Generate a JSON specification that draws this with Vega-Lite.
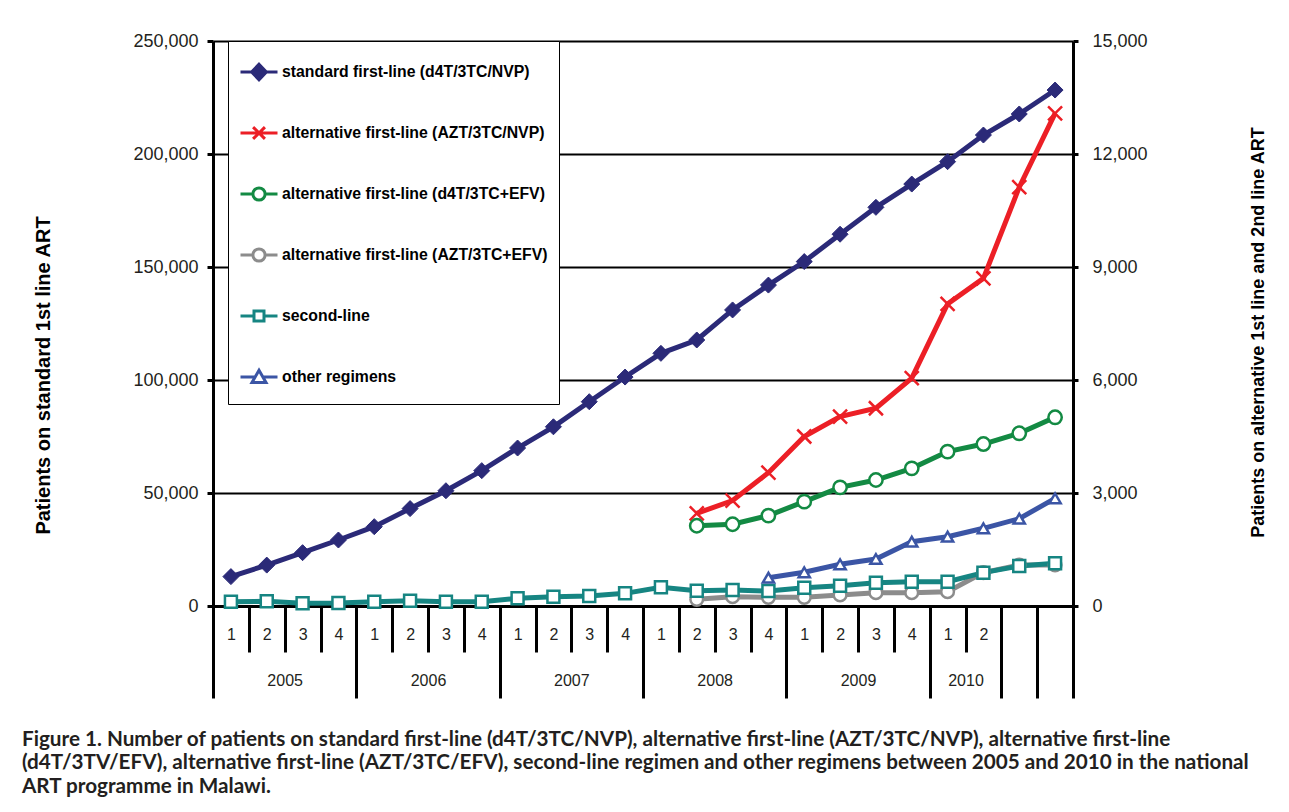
{
  "$schema": "https://vega.github.io/schema/vega-lite/v6.json",
  "width": 860,
  "height": 565,
  "autosize": {"type": "none"},
  "padding": {"left": 213, "top": 41, "right": 216, "bottom": 206},
  "background": "white",
  "config": {
    "view": {"stroke": null},
    "axis": {"labelFont": "Liberation Sans", "titleFont": "Liberation Sans"}
  },
  "title": {
    "text": [
      "Figure 1. Number of patients on standard first-line (d4T/3TC/NVP), alternative first-line (AZT/3TC/NVP), alternative first-line",
      "(d4T/3TV/EFV), alternative first-line (AZT/3TC/EFV), second-line regimen and other regimens between 2005 and 2010 in the national",
      "ART programme in Malawi."
    ],
    "orient": "bottom",
    "anchor": "start",
    "frame": "group",
    "font": "Lato",
    "fontWeight": "bold",
    "fontSize": 20.7,
    "color": "#231f20",
    "lineHeight": 23.7,
    "offset": 30,
    "dx": -191
  },
  "data": {
    "values": [
      {"s": "standard first-line (d4T/3TC/NVP)", "t": 2005.125, "v": 13000},
      {"s": "standard first-line (d4T/3TC/NVP)", "t": 2005.375, "v": 18100},
      {"s": "standard first-line (d4T/3TC/NVP)", "t": 2005.625, "v": 23600},
      {"s": "standard first-line (d4T/3TC/NVP)", "t": 2005.875, "v": 29200},
      {"s": "standard first-line (d4T/3TC/NVP)", "t": 2006.125, "v": 35100},
      {"s": "standard first-line (d4T/3TC/NVP)", "t": 2006.375, "v": 43100},
      {"s": "standard first-line (d4T/3TC/NVP)", "t": 2006.625, "v": 51000},
      {"s": "standard first-line (d4T/3TC/NVP)", "t": 2006.875, "v": 59900},
      {"s": "standard first-line (d4T/3TC/NVP)", "t": 2007.125, "v": 69900},
      {"s": "standard first-line (d4T/3TC/NVP)", "t": 2007.375, "v": 79300},
      {"s": "standard first-line (d4T/3TC/NVP)", "t": 2007.625, "v": 90400},
      {"s": "standard first-line (d4T/3TC/NVP)", "t": 2007.875, "v": 101300},
      {"s": "standard first-line (d4T/3TC/NVP)", "t": 2008.125, "v": 111800},
      {"s": "standard first-line (d4T/3TC/NVP)", "t": 2008.375, "v": 117700},
      {"s": "standard first-line (d4T/3TC/NVP)", "t": 2008.625, "v": 131000},
      {"s": "standard first-line (d4T/3TC/NVP)", "t": 2008.875, "v": 142000},
      {"s": "standard first-line (d4T/3TC/NVP)", "t": 2009.125, "v": 152400},
      {"s": "standard first-line (d4T/3TC/NVP)", "t": 2009.375, "v": 164500},
      {"s": "standard first-line (d4T/3TC/NVP)", "t": 2009.625, "v": 176400},
      {"s": "standard first-line (d4T/3TC/NVP)", "t": 2009.875, "v": 186700},
      {"s": "standard first-line (d4T/3TC/NVP)", "t": 2010.125, "v": 196600},
      {"s": "standard first-line (d4T/3TC/NVP)", "t": 2010.375, "v": 208400},
      {"s": "standard first-line (d4T/3TC/NVP)", "t": 2010.625, "v": 217700},
      {"s": "standard first-line (d4T/3TC/NVP)", "t": 2010.875, "v": 228300},
      {"s": "alternative first-line (AZT/3TC/NVP)", "t": 2008.375, "v": 2460},
      {"s": "alternative first-line (AZT/3TC/NVP)", "t": 2008.625, "v": 2800},
      {"s": "alternative first-line (AZT/3TC/NVP)", "t": 2008.875, "v": 3540},
      {"s": "alternative first-line (AZT/3TC/NVP)", "t": 2009.125, "v": 4500},
      {"s": "alternative first-line (AZT/3TC/NVP)", "t": 2009.375, "v": 5030},
      {"s": "alternative first-line (AZT/3TC/NVP)", "t": 2009.625, "v": 5250},
      {"s": "alternative first-line (AZT/3TC/NVP)", "t": 2009.875, "v": 6050},
      {"s": "alternative first-line (AZT/3TC/NVP)", "t": 2010.125, "v": 8020},
      {"s": "alternative first-line (AZT/3TC/NVP)", "t": 2010.375, "v": 8700},
      {"s": "alternative first-line (AZT/3TC/NVP)", "t": 2010.625, "v": 11120},
      {"s": "alternative first-line (AZT/3TC/NVP)", "t": 2010.875, "v": 13080},
      {"s": "alternative first-line (d4T/3TC+EFV)", "t": 2008.375, "v": 2130},
      {"s": "alternative first-line (d4T/3TC+EFV)", "t": 2008.625, "v": 2170},
      {"s": "alternative first-line (d4T/3TC+EFV)", "t": 2008.875, "v": 2400},
      {"s": "alternative first-line (d4T/3TC+EFV)", "t": 2009.125, "v": 2770},
      {"s": "alternative first-line (d4T/3TC+EFV)", "t": 2009.375, "v": 3150},
      {"s": "alternative first-line (d4T/3TC+EFV)", "t": 2009.625, "v": 3345},
      {"s": "alternative first-line (d4T/3TC+EFV)", "t": 2009.875, "v": 3655},
      {"s": "alternative first-line (d4T/3TC+EFV)", "t": 2010.125, "v": 4100},
      {"s": "alternative first-line (d4T/3TC+EFV)", "t": 2010.375, "v": 4300},
      {"s": "alternative first-line (d4T/3TC+EFV)", "t": 2010.625, "v": 4585},
      {"s": "alternative first-line (d4T/3TC+EFV)", "t": 2010.875, "v": 5010},
      {"s": "alternative first-line (AZT/3TC+EFV)", "t": 2008.375, "v": 177},
      {"s": "alternative first-line (AZT/3TC+EFV)", "t": 2008.625, "v": 248},
      {"s": "alternative first-line (AZT/3TC+EFV)", "t": 2008.875, "v": 230},
      {"s": "alternative first-line (AZT/3TC+EFV)", "t": 2009.125, "v": 230},
      {"s": "alternative first-line (AZT/3TC+EFV)", "t": 2009.375, "v": 292},
      {"s": "alternative first-line (AZT/3TC+EFV)", "t": 2009.625, "v": 354},
      {"s": "alternative first-line (AZT/3TC+EFV)", "t": 2009.875, "v": 354},
      {"s": "alternative first-line (AZT/3TC+EFV)", "t": 2010.125, "v": 381},
      {"s": "alternative first-line (AZT/3TC+EFV)", "t": 2010.375, "v": 885},
      {"s": "alternative first-line (AZT/3TC+EFV)", "t": 2010.625, "v": 1089},
      {"s": "alternative first-line (AZT/3TC+EFV)", "t": 2010.875, "v": 1089},
      {"s": "second-line", "t": 2005.125, "v": 115},
      {"s": "second-line", "t": 2005.375, "v": 124},
      {"s": "second-line", "t": 2005.625, "v": 71},
      {"s": "second-line", "t": 2005.875, "v": 80},
      {"s": "second-line", "t": 2006.125, "v": 115},
      {"s": "second-line", "t": 2006.375, "v": 142},
      {"s": "second-line", "t": 2006.625, "v": 115},
      {"s": "second-line", "t": 2006.875, "v": 115},
      {"s": "second-line", "t": 2007.125, "v": 204},
      {"s": "second-line", "t": 2007.375, "v": 248},
      {"s": "second-line", "t": 2007.625, "v": 265},
      {"s": "second-line", "t": 2007.875, "v": 336},
      {"s": "second-line", "t": 2008.125, "v": 496},
      {"s": "second-line", "t": 2008.375, "v": 407},
      {"s": "second-line", "t": 2008.625, "v": 425},
      {"s": "second-line", "t": 2008.875, "v": 398},
      {"s": "second-line", "t": 2009.125, "v": 487},
      {"s": "second-line", "t": 2009.375, "v": 540},
      {"s": "second-line", "t": 2009.625, "v": 619},
      {"s": "second-line", "t": 2009.875, "v": 646},
      {"s": "second-line", "t": 2010.125, "v": 646},
      {"s": "second-line", "t": 2010.375, "v": 885},
      {"s": "second-line", "t": 2010.625, "v": 1062},
      {"s": "second-line", "t": 2010.875, "v": 1133},
      {"s": "other regimens", "t": 2008.875, "v": 751},
      {"s": "other regimens", "t": 2009.125, "v": 895},
      {"s": "other regimens", "t": 2009.375, "v": 1107},
      {"s": "other regimens", "t": 2009.625, "v": 1248},
      {"s": "other regimens", "t": 2009.875, "v": 1708},
      {"s": "other regimens", "t": 2010.125, "v": 1840},
      {"s": "other regimens", "t": 2010.375, "v": 2063},
      {"s": "other regimens", "t": 2010.625, "v": 2318},
      {"s": "other regimens", "t": 2010.875, "v": 2859}
    ]
  },
  "layer": [
    {
      "transform": [{"filter": "datum.s === 'standard first-line (d4T/3TC/NVP)'"}],
      "encoding": {
        "x": {
          "field": "t", "type": "quantitative",
          "scale": {"domain": [2005, 2011], "nice": false, "zero": false},
          "axis": {
            "orient": "bottom",
            "values": [2005, 2005.25, 2005.5, 2005.75, 2006, 2006.25, 2006.5, 2006.75, 2007, 2007.25, 2007.5, 2007.75, 2008, 2008.25, 2008.5, 2008.75, 2009, 2009.25, 2009.5, 2009.75, 2010, 2010.25, 2010.5, 2010.75, 2011],
            "labels": false, "grid": false, "title": null,
            "domain": true, "domainColor": "#000", "domainWidth": 3,
            "ticks": true, "tickColor": "#000", "tickWidth": 3,
            "tickSize": {"condition": {"test": "datum.value % 1 === 0 || datum.value > 2010.4", "value": 92}, "value": 46}
          }
        },
        "y": {
          "field": "v", "type": "quantitative",
          "scale": {"domain": [0, 250000], "nice": false},
          "axis": {
            "orient": "left",
            "values": [0, 50000, 100000, 150000, 200000, 250000],
            "format": ",d",
            "grid": true, "gridColor": "#000", "gridWidth": 2, "gridOpacity": 1,
            "domain": true, "domainColor": "#000", "domainWidth": 3,
            "ticks": true, "tickColor": "#000", "tickWidth": 3, "tickSize": 6,
            "labelFontSize": 18, "labelColor": "#231f20", "labelPadding": 9,
            "title": "Patients on standard 1st line ART",
            "titleFontSize": 20, "titleFontWeight": "bold", "titleColor": "#000",
            "titleAngle": 270, "titleBaseline": "middle", "titleAlign": "center",
            "titleX": -170, "titleY": 334
          }
        }
      },
      "layer": [
        {"mark": {"type": "line", "color": "#2b2a78", "strokeWidth": 5}},
        {"mark": {"type": "point", "shape": "diamond", "filled": true, "color": "#2b2a78", "stroke": "#2b2a78", "strokeWidth": 1, "size": 256, "opacity": 1}}
      ]
    },
    {
      "transform": [{"filter": "datum.s !== 'standard first-line (d4T/3TC/NVP)'"}],
      "encoding": {
        "x": {
          "field": "t", "type": "quantitative",
          "axis": {
            "orient": "bottom",
            "values": [2005.125, 2005.375, 2005.625, 2005.875, 2006.125, 2006.375, 2006.625, 2006.875, 2007.125, 2007.375, 2007.625, 2007.875, 2008.125, 2008.375, 2008.625, 2008.875, 2009.125, 2009.375, 2009.625, 2009.875, 2010.125, 2010.375, 2005.5, 2006.5, 2007.5, 2008.5, 2009.5, 2010.25],
            "ticks": false, "domain": false, "grid": false, "title": null,
            "labelExpr": "(datum.value*8)%2===1 ? ('' + (floor((datum.value%1)*4)+1)) : ('' + floor(datum.value))",
            "labelPadding": {"condition": {"test": "(datum.value*8)%2===1", "value": 20}, "value": 66},
            "labelFontSize": 16, "labelColor": "#231f20",
            "labelFlush": false, "labelOverlap": false, "labelBound": false
          }
        },
        "y": {
          "field": "v", "type": "quantitative",
          "scale": {"domain": [0, 15000], "nice": false},
          "axis": {
            "orient": "right",
            "values": [0, 3000, 6000, 9000, 12000, 15000],
            "format": ",d",
            "grid": false,
            "domain": true, "domainColor": "#000", "domainWidth": 3,
            "ticks": true, "tickColor": "#000", "tickWidth": 3, "tickSize": 5,
            "labelFontSize": 18, "labelColor": "#231f20", "labelPadding": 14,
            "title": "Patients on alternative 1st line and 2nd line ART",
            "titleFontSize": 18, "titleFontWeight": "bold", "titleColor": "#000",
            "titleAngle": 270, "titleBaseline": "middle", "titleAlign": "center",
            "titleX": 185, "titleY": 291
          }
        }
      },
      "layer": [
        {
          "mark": {"type": "line", "strokeWidth": 5},
          "encoding": {
            "stroke": {
              "field": "s", "type": "nominal",
              "scale": {
                "domain": ["alternative first-line (AZT/3TC/NVP)", "alternative first-line (d4T/3TC+EFV)", "alternative first-line (AZT/3TC+EFV)", "second-line", "other regimens"],
                "range": ["#ec1f26", "#138a43", "#8c8c8c", "#168582", "#3b55a5"]
              },
              "legend": null
            }
          }
        },
        {
          "mark": {"type": "point", "opacity": 1, "strokeWidth": 2.5},
          "encoding": {
            "stroke": {"field": "s", "type": "nominal", "legend": null},
            "fill": {"value": "white"},
            "shape": {
              "field": "s", "type": "nominal",
              "scale": {
                "domain": ["alternative first-line (AZT/3TC/NVP)", "alternative first-line (d4T/3TC+EFV)", "alternative first-line (AZT/3TC+EFV)", "second-line", "other regimens"],
                "range": ["M-1,-1L1,1M1,-1L-1,1", "circle", "circle", "square", "triangle-up"]
              },
              "legend": null
            },
            "size": {
              "field": "s", "type": "nominal",
              "scale": {
                "domain": ["alternative first-line (AZT/3TC/NVP)", "alternative first-line (d4T/3TC+EFV)", "alternative first-line (AZT/3TC+EFV)", "second-line", "other regimens"],
                "range": [196, 125, 125, 56, 169]
              },
              "legend": null
            }
          }
        }
      ]
    },
    {
      "mark": {"type": "point", "opacity": 0, "filled": true},
      "encoding": {
        "x": {"field": "t", "type": "quantitative", "axis": null},
        "y": {"field": "v", "type": "quantitative", "axis": null},
        "shape": {
          "field": "s", "type": "nominal",
          "scale": {
            "domain": ["standard first-line (d4T/3TC/NVP)", "alternative first-line (AZT/3TC/NVP)", "alternative first-line (d4T/3TC+EFV)", "alternative first-line (AZT/3TC+EFV)", "second-line", "other regimens"],
            "range": [
              "M0,-1M0,0.5M-1,0L1,0M0,-0.42L0.4,0L0,0.42L-0.4,0Z",
              "M0,-1M0,0.5M-1,0L1,0M-0.32,-0.32L0.32,0.32M0.32,-0.32L-0.32,0.32",
              "M0,-1M0,0.5M-1,0L-0.33,0M0.33,0L1,0M0.33,0A0.33,0.33,0,1,1,-0.33,0A0.33,0.33,0,1,1,0.33,0Z",
              "M0,-1M0,0.5M-1,0L-0.33,0M0.33,0L1,0M0.33,0A0.33,0.33,0,1,1,-0.33,0A0.33,0.33,0,1,1,0.33,0Z",
              "M0,-1M0,0.5M-1,0L-0.27,0M0.27,0L1,0M-0.27,-0.27L0.27,-0.27L0.27,0.27L-0.27,0.27Z",
              "M0,-1M0,0.5M-1,0L-0.2,0M0.2,0L1,0M0,-0.36L0.38,0.3L-0.38,0.3Z"
            ]
          },
          "legend": {
            "orient": "none", "legendX": 15, "legendY": 0,
            "title": null, "direction": "vertical",
            "strokeColor": "#000", "fillColor": "white",
            "padding": 11, "rowPadding": 20,
            "symbolSize": 1369, "symbolStrokeWidth": 3, "symbolOpacity": 1,
            "labelFont": "Liberation Sans", "labelFontWeight": "bold", "labelFontSize": 15.8,
            "labelColor": "#000", "labelOffset": 3, "labelLimit": 500,
            "encode": {"legend": {"update": {"strokeWidth": {"value": 2}}}}
          }
        },
        "stroke": {
          "field": "s", "type": "nominal",
          "scale": {
            "domain": ["standard first-line (d4T/3TC/NVP)", "alternative first-line (AZT/3TC/NVP)", "alternative first-line (d4T/3TC+EFV)", "alternative first-line (AZT/3TC+EFV)", "second-line", "other regimens"],
            "range": ["#2b2a78", "#ec1f26", "#138a43", "#8c8c8c", "#168582", "#3b55a5"]
          }
        },
        "fill": {
          "field": "s", "type": "nominal",
          "scale": {
            "domain": ["standard first-line (d4T/3TC/NVP)", "alternative first-line (AZT/3TC/NVP)", "alternative first-line (d4T/3TC+EFV)", "alternative first-line (AZT/3TC+EFV)", "second-line", "other regimens"],
            "range": ["#2b2a78", "white", "white", "white", "white", "white"]
          }
        }
      }
    }
  ],
  "resolve": {
    "scale": {"y": "independent", "shape": "independent", "stroke": "independent", "fill": "independent", "size": "independent"},
    "axis": {"x": "independent", "y": "independent"}
  }
}
